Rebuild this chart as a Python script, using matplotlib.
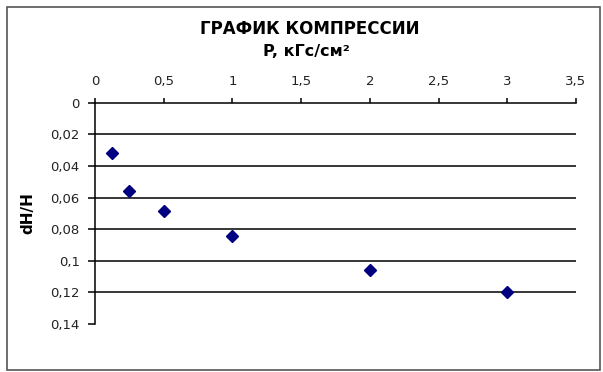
import matplotlib.pyplot as plt
from matplotlib.patches import Rectangle
from matplotlib.ticker import FuncFormatter

plt.rcParams['font.family'] = ['DejaVu Sans']

# нагрузка, кГс/см2
pressure = [0.125, 0.25, 0.5, 1.0, 2.0, 3.0]
# относительная осадка
strain = [0.0316, 0.0559, 0.0683, 0.0843, 0.1058, 0.1196]

xticks = [0, 0.5, 1, 1.5, 2, 2.5, 3, 3.5]
yticks = [0, 0.02, 0.04, 0.06, 0.08, 0.1, 0.12, 0.14]


def comma(v, pos):
    s = '{:g}'.format(round(v, 4))
    return s.replace('.', ',')


fig = plt.figure(figsize=(6.03, 3.72), dpi=100)
W, H = 603, 372

# рамка диаграммы
fig.patches.append(Rectangle((7 / W, 2 / H), 593 / W, 363 / H, transform=fig.transFigure,
                             fill=False, edgecolor='#555555', linewidth=1.2))

ax = fig.add_axes([95 / W, 1 - 324 / H, 481 / W, 221.3 / H])

ax.plot(pressure, strain, linestyle='none', marker='D', markersize=6.2,
        color='#000080', zorder=3)

ax.set_xlim(0, 3.5)
ax.set_ylim(0.14, 0)
ax.set_xticks(xticks)
ax.set_yticks(yticks)
ax.xaxis.set_major_formatter(FuncFormatter(comma))
ax.yaxis.set_major_formatter(FuncFormatter(comma))
ax.xaxis.tick_top()

for s in ['right', 'bottom']:
    ax.spines[s].set_visible(False)
for s in ['top', 'left']:
    ax.spines[s].set_linewidth(1.1)

# горизонтальные линии сетки
for y in yticks[1:-1]:
    ax.axhline(y, color='black', linewidth=1.1, zorder=1)

ax.tick_params(axis='both', direction='out', width=1.1, labelsize=9.5, labelcolor='#222222')
ax.tick_params(axis='x', length=3.5, pad=7)
ax.tick_params(axis='y', length=5, pad=6)

ax.set_ylabel('dH/H', fontsize=11, fontweight='bold', labelpad=11)
fig.text(310 / W, 1 - 29 / H, 'ГРАФИК КОМПРЕССИИ', ha='center', va='center',
         fontsize=12, fontweight='bold')
fig.text(306 / W, 1 - 51 / H, 'P, кГс/см²', ha='center', va='center',
         fontsize=11.5, fontweight='bold')

fig.savefig('out.png', dpi=100)
